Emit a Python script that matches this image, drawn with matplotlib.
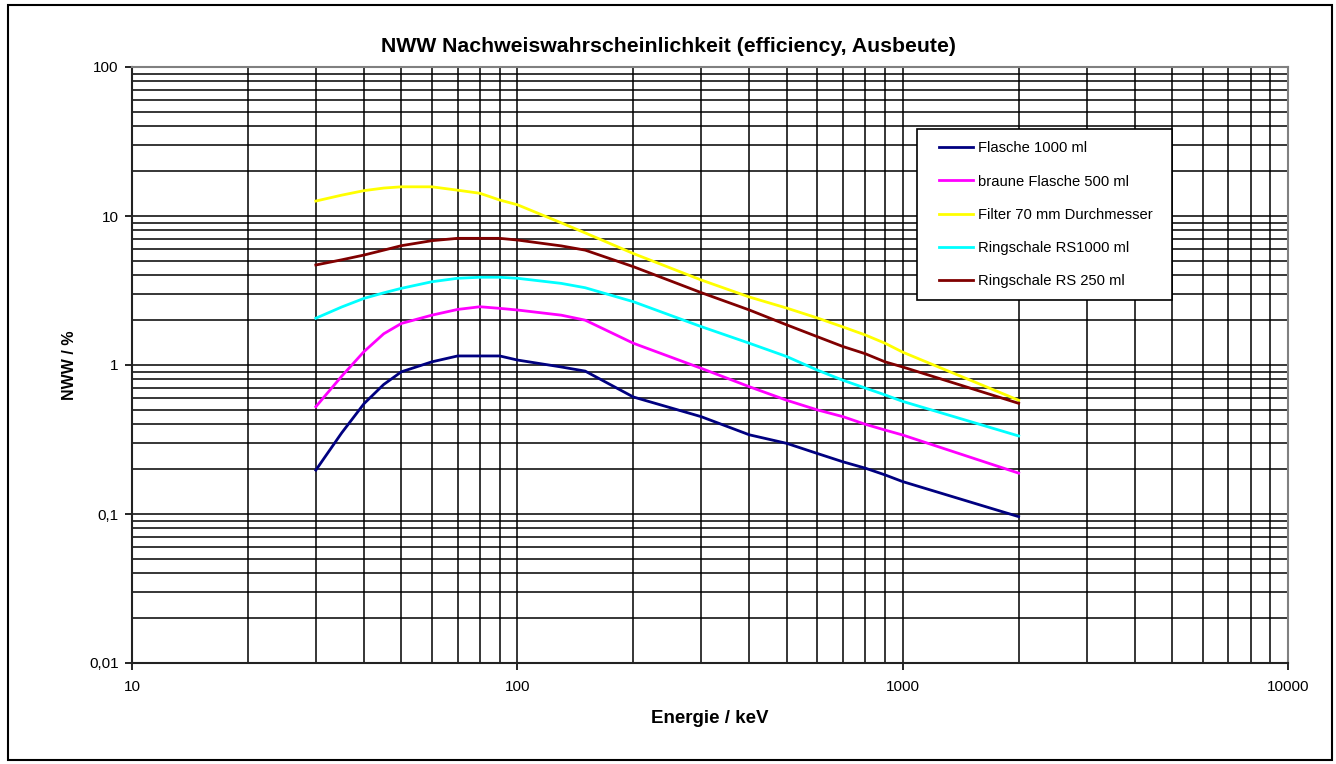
import numpy as np
import matplotlib
matplotlib.use("Agg")
import matplotlib.pyplot as plt
from matplotlib.ticker import LogLocator, FixedLocator, FixedFormatter, NullFormatter
from matplotlib.patches import Rectangle

plt.rcParams['font.family'] = ['Liberation Sans', 'DejaVu Sans']

# energies in keV
energie = [30, 35, 40, 45, 50, 60, 70, 80, 90, 100, 130, 150, 200, 300, 400, 500,
           600, 700, 800, 900, 1000, 2000]

flasche_1000 = [0.197, 0.35, 0.55, 0.74, 0.90, 1.05, 1.15, 1.15, 1.15, 1.08, 0.97, 0.91,
                0.61, 0.45, 0.34, 0.298, 0.255, 0.224, 0.203, 0.183, 0.165, 0.096]
braune_500 = [0.525, 0.84, 1.23, 1.62, 1.90, 2.16, 2.36, 2.46, 2.40, 2.34, 2.16, 2.0,
              1.40, 0.95, 0.715, 0.58, 0.50, 0.45, 0.40, 0.366, 0.339, 0.188]
filter_70 = [12.6, 13.8, 14.8, 15.4, 15.7, 15.7, 14.9, 14.2, 12.8, 11.9, 9.0, 7.7,
             5.6, 3.72, 2.86, 2.41, 2.07, 1.80, 1.59, 1.40, 1.22, 0.58]
rs_1000 = [2.06, 2.45, 2.80, 3.05, 3.27, 3.62, 3.82, 3.88, 3.88, 3.82, 3.53, 3.3,
           2.66, 1.81, 1.40, 1.14, 0.925, 0.79, 0.70, 0.63, 0.57, 0.334]
rs_250 = [4.69, 5.08, 5.47, 5.9, 6.32, 6.83, 7.08, 7.08, 7.08, 6.9, 6.3, 5.9,
          4.57, 3.06, 2.34, 1.86, 1.55, 1.33, 1.19, 1.05, 0.97, 0.553]

serien = [
    ("Flasche 1000 ml", flasche_1000, "#000080"),
    ("braune Flasche 500 ml", braune_500, "#FF00FF"),
    ("Filter 70 mm Durchmesser", filter_70, "#FFFF00"),
    ("Ringschale RS1000 ml", rs_1000, "#00FFFF"),
    ("Ringschale RS 250 ml", rs_250, "#800000"),
]

y_ticks = [0.01, 0.1, 1, 10, 100]
y_labels = ["0,01", "0,1", "1", "10", "100"]
x_ticks = [10, 100, 1000, 10000]
x_labels = ["10", "100", "1000", "10000"]

fig = plt.figure(figsize=(13.36, 7.64), dpi=100)
ax = fig.add_axes([132 / 1336, 1 - 663 / 764, 1156 / 1336, 596 / 764])

for name, werte, farbe in serien:
    ax.plot(energie, werte, color=farbe, lw=2.0, label=name, zorder=3)

ax.set_xscale("log")
ax.set_yscale("log")
ax.set_xlim(10, 10000)
ax.set_ylim(0.01, 100)

ax.xaxis.set_major_locator(FixedLocator(x_ticks))
ax.xaxis.set_major_formatter(FixedFormatter(x_labels))
ax.yaxis.set_major_locator(FixedLocator(y_ticks))
ax.yaxis.set_major_formatter(FixedFormatter(y_labels))
ax.xaxis.set_minor_locator(LogLocator(base=10, subs=np.arange(2, 10)))
ax.yaxis.set_minor_locator(LogLocator(base=10, subs=np.arange(2, 10)))
ax.xaxis.set_minor_formatter(NullFormatter())
ax.yaxis.set_minor_formatter(NullFormatter())

ax.grid(which="both", color="black", lw=1.1)
ax.tick_params(which="major", direction="out", length=5, width=1.2, labelsize=11,
               color="black")
ax.tick_params(axis="x", which="major", pad=7)
ax.tick_params(axis="y", which="major", pad=4.5)
ax.tick_params(which="minor", length=0)

for s in ["left", "bottom"]:
    ax.spines[s].set_color("#222222")
    ax.spines[s].set_linewidth(1.5)
for s in ["top", "right"]:
    ax.spines[s].set_color("#808080")
    ax.spines[s].set_linewidth(1.5)

ax.set_xlabel("Energie / keV", fontsize=13.5, fontweight="bold", labelpad=12)
ax.set_ylabel("NWW / %", fontsize=11.5, fontweight="bold", labelpad=9)
ax.set_title("NWW Nachweiswahrscheinlichkeit (efficiency, Ausbeute)",
             fontsize=15.3, fontweight="bold", pad=11, x=(668 - 132) / 1156)

# legend box drawn separately so its padding matches the original
ax.add_patch(Rectangle((785 / 1156, 363 / 596), 255 / 1156, 171 / 596,
                       transform=ax.transAxes, facecolor="white",
                       edgecolor="black", lw=1.2, zorder=4))
leg = ax.legend(loc="upper left", bbox_to_anchor=(807 / 1156, 0.875), fontsize=10.6,
                frameon=False, labelspacing=1.3, handlelength=2.3, borderpad=0,
                handletextpad=0.35, borderaxespad=0)
leg.set_zorder(5)

fig.patches.append(Rectangle((8 / 1336, 4 / 764), 1324 / 1336, 755 / 764,
                             transform=fig.transFigure, fill=False,
                             edgecolor="black", lw=1.5))

fig.savefig("out.png", dpi=100, facecolor="white")
